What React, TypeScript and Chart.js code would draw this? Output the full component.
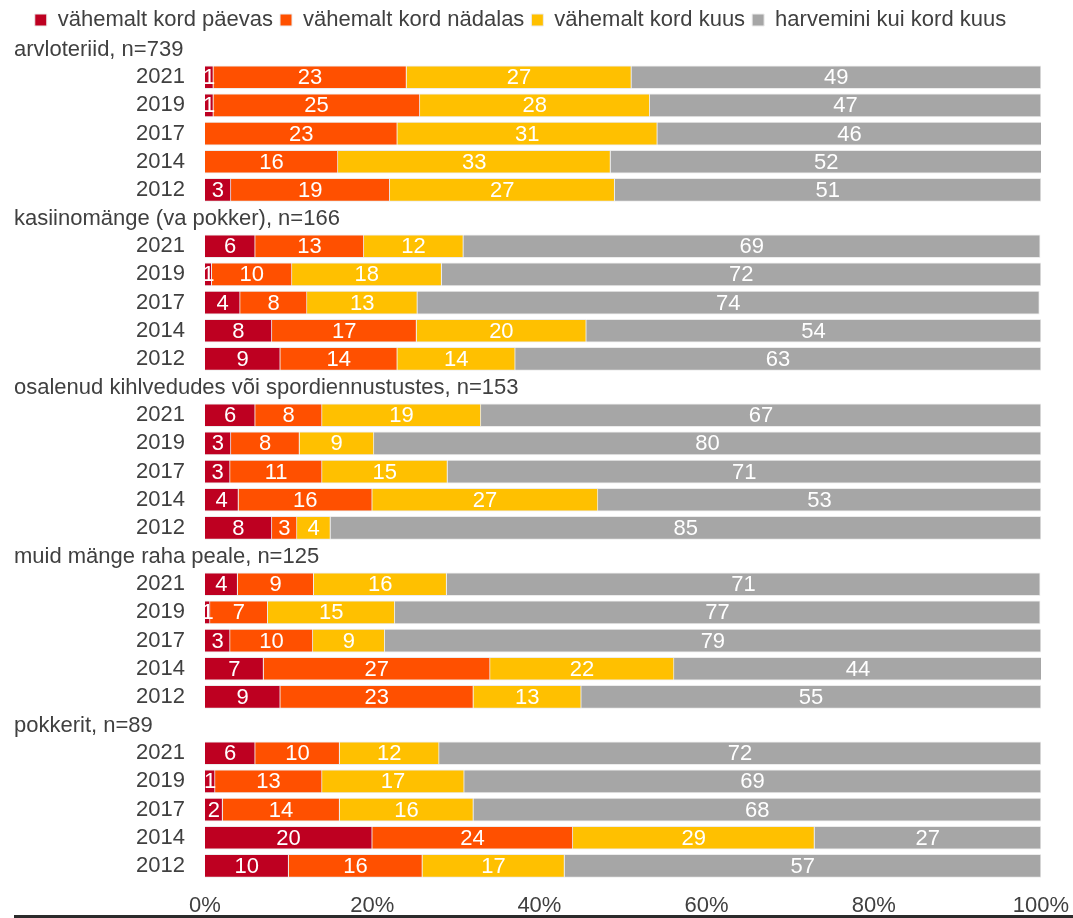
import React, { useEffect, useRef } from 'react';
import { Chart, registerables } from 'chart.js';

Chart.register(...registerables);

const groupTitles = [
  'arvloteriid, n=739',
  'kasiinomänge (va pokker), n=166',
  'osalenud kihlvedudes või spordiennustustes, n=153',
  'muid mänge raha peale, n=125',
  'pokkerit, n=89',
];
const years = ['2021', '2019', '2017', '2014', '2012'];
const seriesNames = [
  'vähemalt kord päevas',
  'vähemalt kord nädalas',
  'vähemalt kord kuus',
  'harvemini kui kord kuus',
];
const seriesColors = ['#BE0021', '#FF5000', '#FFC000', '#A6A6A6'];

// values per group (group order above), years 2021, 2019, 2017, 2014, 2012
const daily = [1.0, 1.0, 0, 0, 3.1, 6.0, 0.8, 4.2, 8.0, 9.0, 6.0, 3.1, 3.0, 4.0, 8.0, 3.9, 0.6, 3.0, 7.0, 9.0, 6.0, 1.2, 2.1, 20.0, 10.0];
const weekly = [23.1, 24.7, 23.0, 15.9, 19.0, 13.0, 9.6, 8.0, 17.3, 14.0, 8.0, 8.2, 11.0, 16.0, 3.0, 9.1, 6.9, 9.9, 27.1, 23.1, 10.1, 12.8, 14.0, 24.0, 16.0];
const monthly = [26.9, 27.5, 31.1, 32.6, 26.9, 11.9, 17.9, 13.2, 20.3, 14.1, 19.0, 8.9, 15.0, 27.0, 4.0, 15.9, 15.2, 8.6, 22.0, 12.9, 11.9, 17.0, 16.0, 28.9, 17.0];
const rarely = [49.0, 46.8, 46.0, 51.6, 51.0, 69.0, 71.7, 74.4, 54.4, 62.9, 67.0, 79.8, 71.0, 53.0, 85.0, 71.0, 77.2, 78.5, 44.0, 55.0, 72.0, 69.0, 67.9, 27.1, 57.0];
const xTicks = [0, 20, 40, 60, 80, 100];

const FONT = "'Liberation Sans', Arial, sans-serif";
const TEXT = '#404040';
const FS = 22;

export default function App() {
  const ref = useRef<HTMLCanvasElement | null>(null);

  useEffect(() => {
    const labels: string[] = [];
    const isHeader: boolean[] = [];
    const seriesAll = [daily, weekly, monthly, rarely];
    const rows: (number | null)[][] = seriesAll.map(() => []);
    groupTitles.forEach((g, gi) => {
      labels.push(g);
      isHeader.push(true);
      rows.forEach((r) => r.push(null));
      years.forEach((y, yi) => {
        labels.push(y);
        isHeader.push(false);
        rows.forEach((r, si) => r.push(seriesAll[si][gi * 5 + yi]));
      });
    });

    const headerPlugin = {
      id: 'headers',
      afterDraw(chart: any) {
        const ctx = chart.ctx;
        const ys = chart.scales.y;
        ctx.save();
        ctx.font = `${FS}px ${FONT}`;
        ctx.fillStyle = TEXT;
        ctx.textAlign = 'left';
        ctx.textBaseline = 'middle';
        labels.forEach((l, i) => {
          if (isHeader[i]) ctx.fillText(l, 14, ys.getPixelForValue(i) + 1);
        });
        ctx.fillStyle = '#2b2b2b';
        ctx.fillRect(14, 915, chart.width - 14, 3);
        ctx.restore();
      },
    };

    const valueLabels = {
      id: 'valueLabels',
      afterDatasetsDraw(chart: any) {
        const ctx = chart.ctx;
        ctx.save();
        ctx.font = `${FS}px ${FONT}`;
        ctx.fillStyle = '#ffffff';
        ctx.textAlign = 'center';
        ctx.textBaseline = 'middle';
        chart.data.datasets.forEach((ds: any, di: number) => {
          const meta = chart.getDatasetMeta(di);
          meta.data.forEach((el: any, i: number) => {
            const v = ds.data[i];
            if (v == null || v <= 0) return;
            const cx = (el.x + el.base) / 2;
            ctx.fillText(String(Math.round(v)), cx, el.y + 1);
          });
        });
        ctx.restore();
      },
    };

    const legendHeight = {
      id: 'legendHeight',
      beforeInit(chart: any) {
        const fit = chart.legend.fit;
        chart.legend.fit = function () {
          fit.bind(chart.legend)();
          this.height = 33;
        };
      },
    };

    Chart.defaults.font.family = FONT;
    const chart = new Chart(ref.current as HTMLCanvasElement, {
      type: 'bar',
      data: {
        labels,
        datasets: seriesNames.map((n, i) => ({
          label: n,
          data: rows[i],
          backgroundColor: seriesColors[i],
          borderColor: '#ececec',
          borderWidth: 1,
          barThickness: 23,
        })),
      },
      options: {
        indexAxis: 'y',
        animation: false,
        responsive: true,
        maintainAspectRatio: false,
        layout: { padding: { left: 0, right: 32, top: 2, bottom: 0 } },
        scales: {
          x: {
            stacked: true,
            min: 0,
            max: 100,
            afterBuildTicks: (scale: any) => {
              scale.ticks = xTicks.map((v) => ({ value: v }));
            },
            afterFit: (scale: any) => {
              scale.height = 38;
              scale.paddingLeft = 0;
              scale.paddingRight = 0;
            },
            grid: { display: false, drawTicks: false },
            border: { display: false },
            ticks: {
              padding: 13,
              color: TEXT,
              font: { size: FS, family: FONT },
              callback: (v: any) => v + '%',
            },
          },
          y: {
            stacked: true,
            afterFit: (scale: any) => {
              scale.width = 205;
              scale.paddingTop = 0;
              scale.paddingBottom = 0;
            },
            grid: { display: false, drawTicks: false },
            border: { display: false },
            ticks: {
              padding: 20,
              color: TEXT,
              autoSkip: false,
              font: { size: FS, family: FONT },
              callback: (_v: any, i: number) => (isHeader[i] ? '' : labels[i]),
            },
          },
        },
        plugins: {
          legend: {
            position: 'top',
            labels: {
              boxWidth: 12,
              boxHeight: 12,
              padding: 7,
              color: TEXT,
              font: { size: FS, family: FONT },
            },
          },
          tooltip: { enabled: false },
        },
      },
      plugins: [legendHeight, valueLabels, headerPlugin],
    } as any);
    return () => chart.destroy();
  }, []);

  return (
    <div style={{ position: 'fixed', left: 0, top: 0, width: 1073, height: 918, background: '#fff' }}>
      <canvas ref={ref} />
    </div>
  );
}
